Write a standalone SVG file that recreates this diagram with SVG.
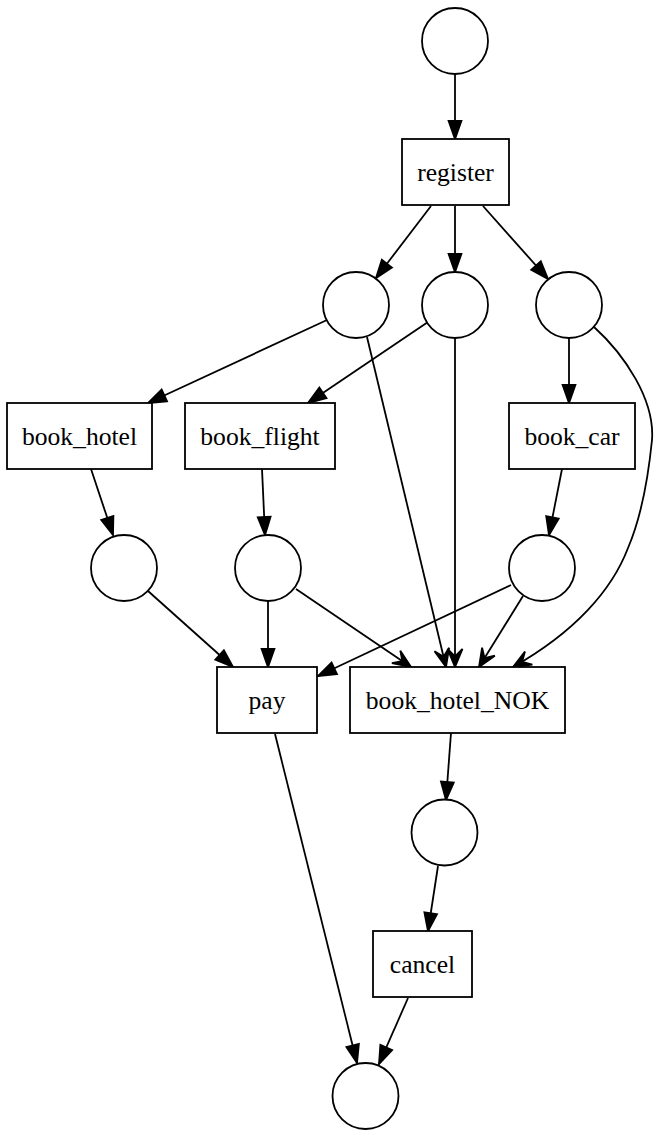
<svg xmlns="http://www.w3.org/2000/svg" width="662" height="1137" viewBox="0 0 662 1137">
  <style>
    .place { fill: #ffffff; stroke: #000000; stroke-width: 1.8; }
    .trans { fill: #ffffff; stroke: #000000; stroke-width: 1.8; }
    .label { font-family: "Liberation Serif", "Times New Roman", serif; font-size: 25.6px; fill: #000000; text-anchor: middle; }
    .edge { fill: none; stroke: #000000; stroke-width: 1.8; }
    .arc { marker-end: url(#normal); }
    .arcv { marker-end: url(#vee); }
  </style>
  <defs>
    <marker id="normal" viewBox="-3 -10 24 20" markerWidth="24" markerHeight="20" refX="18" refY="0" orient="auto" markerUnits="userSpaceOnUse" overflow="visible">
      <path d="M0,-6.4 L18,0 L0,6.4 Z" fill="#000000" stroke="#000000" stroke-width="1.8"/>
    </marker>
    <marker id="vee" viewBox="-3 -10 24 20" markerWidth="24" markerHeight="20" refX="18" refY="0" orient="auto" markerUnits="userSpaceOnUse" overflow="visible">
      <path d="M0,-7.5 L18,0 L0,7.5 L7.5,0 Z" fill="#000000" stroke="#000000" stroke-width="1.8"/>
    </marker>
  </defs>

  <!-- arcs -->
  <g id="edges">
    <path class="edge arc" d="M455,74 L455,139"/>
    <path class="edge arc" d="M431,206 L376,278"/>
    <path class="edge arc" d="M455,206 L455,272"/>
    <path class="edge arc" d="M483,206 L548,279"/>
    <path class="edge arc" d="M327,320 L148,403"/>
    <path class="edge arc" d="M428,322 L308,403"/>
    <path class="edge arcv" d="M367,337 L446,667"/>
    <path class="edge arcv" d="M455,338 L455,667"/>
    <path class="edge arc" d="M569,338 L569,403"/>
    <path class="edge arcv" d="M593,326 C625,355 655,400 652,440 C648,480 640,520 628,548 C612,590 575,632 513,667"/>
    <path class="edge arc" d="M91,469 L113,535"/>
    <path class="edge arc" d="M262,469 L265,535"/>
    <path class="edge arc" d="M562,469 L549,535"/>
    <path class="edge arc" d="M148,591 L233,667"/>
    <path class="edge arc" d="M268,601 L268,667"/>
    <path class="edge arcv" d="M296,589 L411,667"/>
    <path class="edge arc" d="M511,585 L318,676"/>
    <path class="edge arcv" d="M523,596 L479,667"/>
    <path class="edge arc" d="M451,733 L446,800"/>
    <path class="edge arc" d="M438,866 L428,931"/>
    <path class="edge arc" d="M275,734 L357,1063"/>
    <path class="edge arc" d="M408,998 L379,1064"/>
  </g>

  <!-- places -->
  <g id="p_start"><circle class="place" cx="455" cy="41" r="33"/></g>
  <g id="p_reg_hotel"><circle class="place" cx="356" cy="305" r="33"/></g>
  <g id="p_reg_flight"><circle class="place" cx="455" cy="305" r="33"/></g>
  <g id="p_reg_car"><circle class="place" cx="569" cy="305" r="33"/></g>
  <g id="p_hotel_done"><circle class="place" cx="124" cy="568" r="33"/></g>
  <g id="p_flight_done"><circle class="place" cx="268" cy="568" r="33"/></g>
  <g id="p_car_done"><circle class="place" cx="542" cy="568" r="33"/></g>
  <g id="p_nok"><circle class="place" cx="444.5" cy="832.5" r="33"/></g>
  <g id="p_end"><circle class="place" cx="365.5" cy="1096" r="33"/></g>

  <!-- transitions -->
  <g id="t_register">
    <rect class="trans" x="402" y="139" width="107" height="66"/>
    <text class="label" x="455.5" y="180.5">register</text>
  </g>
  <g id="t_book_hotel">
    <rect class="trans" x="7" y="403" width="145" height="66"/>
    <text class="label" x="79.5" y="444.5">book_hotel</text>
  </g>
  <g id="t_book_flight">
    <rect class="trans" x="185" y="403" width="150" height="66"/>
    <text class="label" x="260" y="444.5">book_flight</text>
  </g>
  <g id="t_book_car">
    <rect class="trans" x="509" y="403" width="126" height="66"/>
    <text class="label" x="572" y="444.5">book_car</text>
  </g>
  <g id="t_pay">
    <rect class="trans" x="217" y="667" width="100" height="66"/>
    <text class="label" x="267" y="708.5">pay</text>
  </g>
  <g id="t_book_hotel_NOK">
    <rect class="trans" x="350" y="667" width="215" height="66"/>
    <text class="label" x="457.5" y="708.5">book_hotel_NOK</text>
  </g>
  <g id="t_cancel">
    <rect class="trans" x="373" y="931" width="99" height="66"/>
    <text class="label" x="422.5" y="972.5">cancel</text>
  </g>
</svg>
